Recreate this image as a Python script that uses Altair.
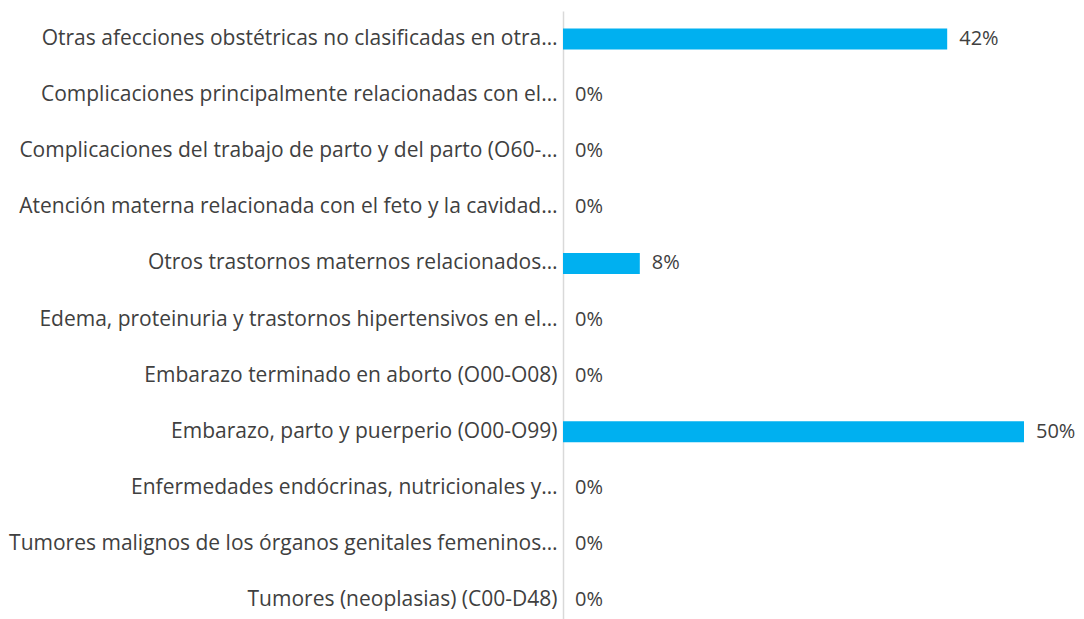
import altair as alt
import pandas as pd

categories = [
    "Otras afecciones obstétricas no clasificadas en otra…",
    "Complicaciones principalmente relacionadas con el…",
    "Complicaciones del trabajo de parto y del parto (O60-…",
    "Atención materna relacionada con el feto y la cavidad…",
    "Otros trastornos maternos relacionados…",
    "Edema, proteinuria y trastornos hipertensivos en el…",
    "Embarazo terminado en aborto (O00-O08)",
    "Embarazo, parto y puerperio (O00-O99)",
    "Enfermedades endócrinas, nutricionales y…",
    "Tumores malignos de los órganos genitales femeninos…",
    "Tumores (neoplasias) (C00-D48)",
]
values = [0.4167, 0.0, 0.0, 0.0, 0.0833, 0.0, 0.0, 0.50, 0.0, 0.0, 0.0]
labels = ["42%", "0%", "0%", "0%", "8%", "0%", "0%", "50%", "0%", "0%", "0%"]

df = pd.DataFrame({"cat": categories, "val": values, "lab": labels})

FONT = "Open Sans"
TXT = "#404040"
FS = 21

y = alt.Y("cat:N", sort=categories, title=None,
          scale=alt.Scale(paddingInner=0.0, paddingOuter=0.0),
          axis=alt.Axis(domainColor="#D9D9D9", domainWidth=1.5, ticks=False,
                        labelFont=FONT, labelFontSize=FS, labelColor=TXT,
                        labelPadding=6, labelLimit=700))
x = alt.X("val:Q", title=None, scale=alt.Scale(domain=[0, 0.5], nice=False),
          axis=None)

bars = alt.Chart(df).mark_bar(color="#00B0F0", size=21).encode(x=x, y=y)
text = alt.Chart(df).mark_text(align="left", dx=12, font=FONT, fontSize=20,
                               color=TXT).encode(x=x, y=y, text="lab:N")

chart = (bars + text).properties(
    width=461, height=617,
    autosize=alt.AutoSizeParams(type="none"),
    padding={"left": 555, "top": 3, "right": 52, "bottom": 0},
).configure_view(stroke=None)

chart.save("out.html", embed_options={"renderer": "svg", "actions": False})
